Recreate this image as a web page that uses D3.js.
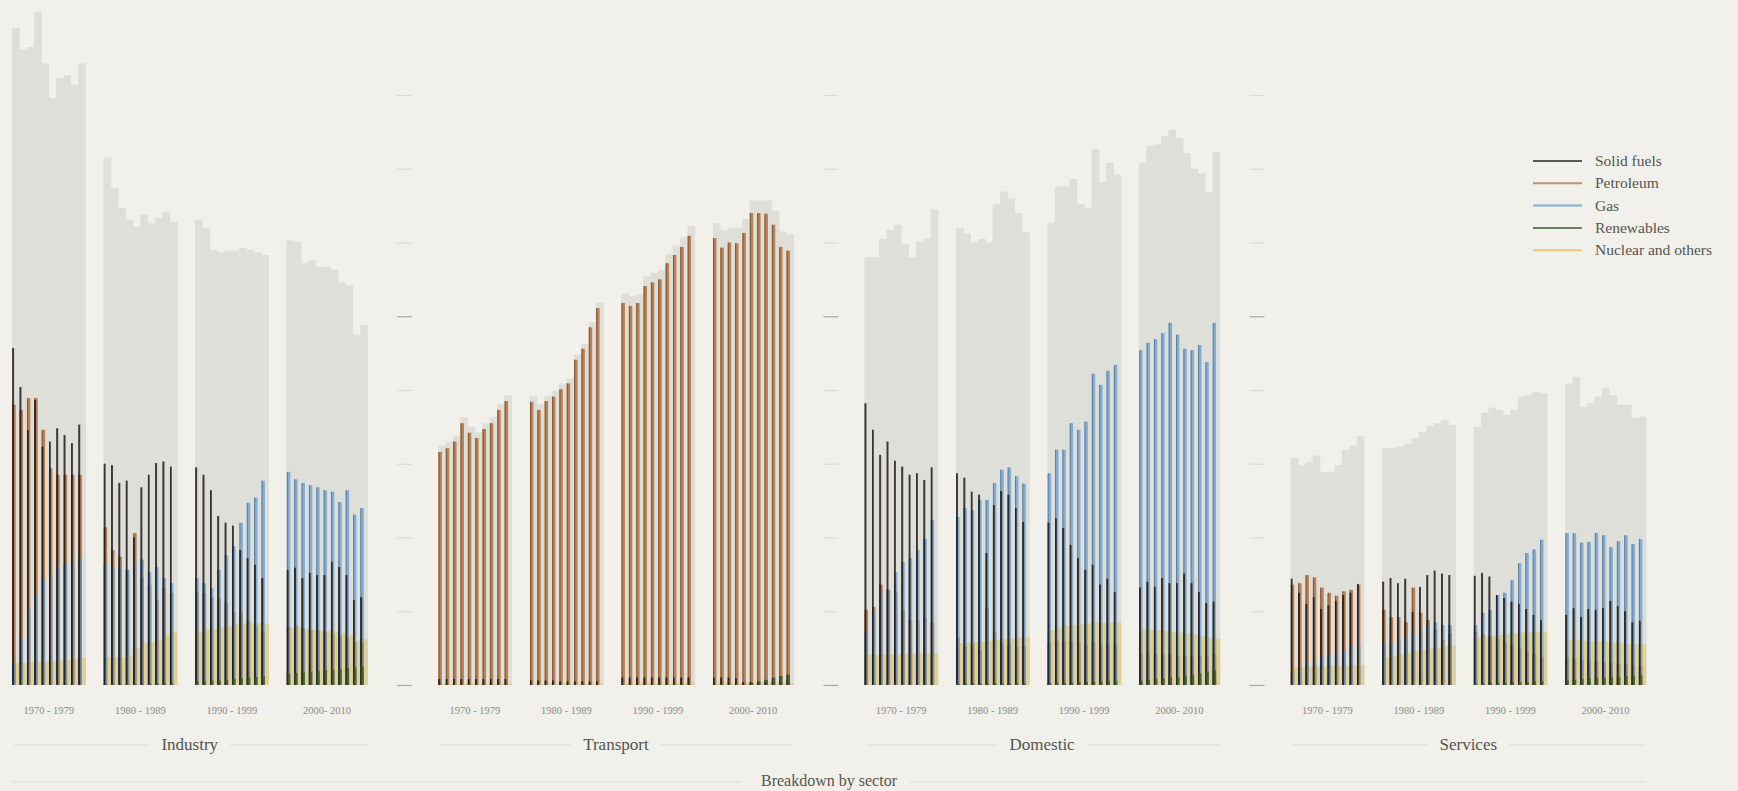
<!DOCTYPE html>
<html>
<head>
<meta charset="utf-8">
<script src="https://cdn.jsdelivr.net/npm/d3@7"></script>
<style>
  html, body { margin: 0; padding: 0; background: #f1f0ea; }
  #chart { width: 1738px; height: 791px; }
  text { font-family: "Liberation Serif", "DejaVu Serif", serif; }
</style>
</head>
<body>
<div id="chart"></div>
<script>
// categories
const sectors = ["Industry", "Transport", "Domestic", "Services"];
const decadeLabels = ["1970 - 1979", "1980 - 1989", "1990 - 1999", "2000- 2010"];
const decadeLengths = [10, 10, 10, 11];
const fuels = ["Solid fuels", "Petroleum", "Gas", "Renewables", "Nuclear and others"];
const fuelColors = ["#2e2623", "#b8703a", "#5e9bd6", "#3c5a33", "#e0c150"];
const drawOrder = [1, 2, 0, 3]; // petroleum behind, then gas, solid fuels, renewables in front
const yTicks = [0, 10, 20, 30, 40, 50, 60, 70, 80];

// Industry, 1970-2010
const industryTotal = [89.1,86.2,86.5,91.3,84.3,79.6,82.3,82.7,81.4,84.3, 71.5,67.4,64.7,63.1,62.1,63.7,62.6,63.3,64.1,62.8, 63.1,62.0,59.0,58.7,58.9,58.9,59.3,59.0,58.7,58.3, 60.3,60.1,57.2,57.6,56.7,56.7,56.3,54.6,54.2,47.5,48.8];
const industrySolid = [45.7,40.4,34.6,38.6,32.3,33.0,34.8,33.9,32.8,35.3, 30.0,29.8,27.4,27.7,20.0,26.8,28.5,30.1,30.3,29.6, 29.5,28.5,26.4,22.9,22.0,21.6,18.3,17.2,16.3,14.5, 15.6,15.9,14.5,15.2,14.9,14.9,16.7,16.0,14.9,11.5,11.9];
const industryPetroleum = [38.0,37.3,38.9,38.9,34.6,29.4,28.5,28.5,28.5,28.5, 21.4,18.3,17.4,15.6,20.6,14.5,13.6,11.5,13.2,12.5, 12.6,12.5,11.9,11.8,11.1,9.9,9.8,8.8,8.1,7.2, 7.9,8.1,7.7,7.5,7.4,7.2,6.9,6.6,6.4,5.8,5.7];
const industryGas = [3.0,6.4,10.4,12.2,14.5,14.6,15.9,16.5,16.5,17.2, 16.3,15.9,16.0,15.6,16.5,17.0,15.3,16.0,14.5,13.8, 14.5,13.8,13.2,15.6,17.6,18.8,22.0,24.7,25.4,27.7, 28.9,27.9,27.4,27.1,26.8,26.4,26.2,24.8,26.4,23.1,24.0];
const industryRenewables = [0,0,0,0,0,0,0,0,0,0, 0.1,0.1,0.1,0.1,0.1,0.1,0.2,0.2,0.2,0.2, 0.5,0.5,0.6,0.6,0.7,0.8,0.9,1.0,1.1,1.2, 1.5,1.6,1.7,1.8,1.9,2.0,2.1,2.2,2.3,2.4,2.5];
const industryNuclear = [3.0,3.0,3.1,3.2,3.2,3.2,3.3,3.4,3.5,3.7, 3.8,3.8,3.8,4.0,5.0,5.7,5.7,6.1,6.8,7.2, 7.2,7.4,7.6,7.8,8.0,8.2,8.3,8.4,8.4,8.3, 7.7,7.8,7.6,7.5,7.4,7.3,7.2,7.0,6.8,6.0,6.2];

// Transport
const transportTotal = [32.5,33.0,33.8,36.3,35.0,34.3,35.5,36.3,38.1,39.3, 39.2,38.1,39.2,39.9,40.9,41.6,44.8,46.3,49.2,51.8, 53.1,52.7,53.0,55.4,55.9,56.3,58.4,59.6,60.7,62.2, 62.6,61.7,62.0,62.0,63.2,65.7,65.7,65.7,64.3,61.5,61.1];
const transportSolid = [0.8,0.8,0.8,0.8,0.8,0.8,0.8,0.8,0.8,0.8, 0.6,0.6,0.6,0.6,0.5,0.5,0.5,0.5,0.5,0.5, 1.0,1.0,1.0,1.0,1.0,1.0,1.0,1.0,1.0,1.0, 1.0,1.0,1.0,0.9,0.4,0.4,0.4,0.4,0.5,0.5,0.6];
const transportPetroleum = [31.6,32.1,33.0,35.5,34.2,33.5,34.7,35.5,37.3,38.5, 38.4,37.3,38.5,39.1,40.1,40.9,44.1,45.6,48.5,51.1, 51.8,51.4,51.8,54.1,54.6,55.0,57.2,58.3,59.4,60.9, 60.6,59.3,60.0,59.9,61.3,64.0,64.0,63.9,62.4,59.4,58.9];
const transportGas = [0,0,0,0,0,0,0,0,0,0, 0,0,0,0,0,0,0,0,0,0, 0,0,0,0,0,0,0,0,0,0, 0,0,0,0,0,0,0,0,0,0,0];
const transportRenewables = [0,0,0,0,0,0,0,0,0,0, 0,0,0,0,0,0,0,0,0,0, 0,0,0,0,0,0,0,0,0,0, 0,0,0,0,0,0.3,0.5,0.7,1.0,1.2,1.4];
const transportNuclear = [0.2,0.2,0.2,0.2,0.2,0.2,0.2,0.2,0.2,0.2, 0.2,0.2,0.2,0.2,0.2,0.2,0.2,0.2,0.2,0.2, 0.3,0.3,0.3,0.3,0.3,0.3,0.3,0.3,0.3,0.3, 0.3,0.3,0.3,0.3,0.3,0.3,0.3,0.3,0.3,0.3,0.3];

// Domestic
const domesticTotal = [58.0,58.0,60.5,61.7,62.4,59.8,58.0,60.1,60.5,64.5, 62.0,61.2,60.0,60.5,60.0,65.2,66.9,66.0,64.0,61.4, 62.7,67.6,67.6,68.6,65.2,64.7,72.7,68.2,70.8,69.2, 70.8,73.1,73.3,74.4,75.3,74.2,72.1,70.0,69.4,66.8,72.3];
const domesticSolid = [38.2,34.6,31.2,33.0,30.4,29.6,28.5,28.7,27.8,29.5, 28.7,28.1,26.2,25.8,17.9,24.4,26.3,25.8,24.0,22.1, 22.0,22.6,21.3,19.0,17.2,15.6,16.3,13.6,14.4,12.6, 13.2,14.0,13.3,14.5,13.8,13.8,15.1,13.8,12.6,11.1,11.3];
const domesticPetroleum = [10.2,10.6,13.6,12.9,12.7,10.2,8.8,8.8,9.1,8.5, 6.4,5.2,5.4,4.7,10.5,7.2,5.7,5.4,5.2,5.2, 5.8,6.0,5.9,5.8,5.6,5.4,5.8,5.5,5.6,5.5, 4.3,4.4,4.2,4.1,4.2,4.0,3.9,3.8,4.0,3.8,4.2];
const domesticGas = [7.1,9.8,12.5,12.9,15.3,16.7,17.2,18.3,19.8,22.4, 22.8,24.0,23.7,25.1,25.1,27.4,29.2,29.5,28.3,27.3, 28.7,31.9,31.9,35.5,34.6,35.7,42.2,40.7,42.6,43.4, 45.4,46.4,46.9,47.7,49.1,47.5,45.6,45.4,46.1,43.8,49.1];
const domesticRenewables = [0,0,0,0,0,0,0,0,0,0, 0.2,0.2,0.2,0.2,0.2,0.2,0.2,0.2,0.2,0.2, 0.3,0.3,0.3,0.3,0.4,0.4,0.4,0.5,0.5,0.5, 0.6,0.7,0.8,0.9,1.0,1.1,1.2,1.4,1.6,1.8,2.0];
const domesticNuclear = [4.1,4.1,4.1,4.2,4.2,4.2,4.2,4.3,4.3,4.3, 5.7,5.8,5.8,5.9,6.0,6.1,6.2,6.3,6.4,6.5, 7.4,7.8,8.0,8.1,8.2,8.3,8.5,8.4,8.5,8.5, 7.6,7.5,7.4,7.3,7.2,7.1,7.0,6.8,6.6,6.4,6.2];

// Services
const servicesTotal = [30.8,29.8,30.2,31.1,28.9,28.9,29.8,31.9,32.5,33.8, 32.1,32.1,32.3,32.7,33.5,34.3,35.1,35.5,35.9,35.3, 35.0,36.9,37.6,37.3,36.6,37.3,39.1,39.3,39.7,39.6, 40.9,41.8,37.7,38.2,39.1,40.3,39.3,38.0,38.0,36.2,36.4];
const servicesSolid = [14.4,12.5,11.0,11.9,10.3,10.8,11.4,12.2,12.5,13.7, 14.0,14.5,13.8,14.4,9.9,13.3,14.9,15.5,15.1,14.9, 14.8,15.2,14.7,12.2,11.8,11.3,11.0,10.3,9.5,8.8, 9.5,10.4,9.2,10.3,10.2,10.4,11.4,10.7,10.0,8.5,8.7];
const servicesPetroleum = [13.6,13.8,14.9,14.6,13.2,12.5,12.1,12.7,12.9,13.6, 10.2,9.2,9.2,8.5,13.2,9.8,8.8,7.5,6.1,7.0, 7.2,6.9,6.6,6.2,5.8,5.4,5.0,4.6,4.2,3.8, 3.7,3.6,3.4,3.3,3.2,3.1,3.0,2.9,2.8,2.6,2.5];
const servicesGas = [1.6,2.3,3.0,3.0,3.8,4.1,4.3,4.7,5.2,5.4, 5.7,5.8,6.1,6.5,7.0,7.6,8.1,8.5,8.1,8.1, 8.1,9.8,10.2,12.2,12.5,14.2,16.5,17.9,18.4,19.7, 20.6,20.6,19.3,19.4,20.6,20.3,18.7,19.5,20.3,19.1,19.8];
const servicesRenewables = [0,0,0,0,0,0,0,0,0,0, 0,0,0,0,0,0,0,0,0,0, 0.2,0.2,0.3,0.3,0.3,0.4,0.4,0.4,0.5,0.5, 0.6,0.7,0.8,0.9,1.0,1.0,1.1,1.1,1.2,1.2,1.3];
const servicesNuclear = [2.4,2.4,2.5,2.5,2.5,2.6,2.6,2.6,2.7,2.7, 3.8,4.0,4.2,4.4,4.6,4.8,5.0,5.1,5.3,5.4, 6.5,6.6,6.7,6.8,6.9,7.0,7.1,7.1,7.2,7.2, 6.1,6.1,6.0,6.0,5.9,5.9,5.8,5.7,5.6,5.5,5.5];

const sectorData = [
  { name: "Industry", total: industryTotal, fuels: [industrySolid, industryPetroleum, industryGas, industryRenewables, industryNuclear] },
  { name: "Transport", total: transportTotal, fuels: [transportSolid, transportPetroleum, transportGas, transportRenewables, transportNuclear] },
  { name: "Domestic", total: domesticTotal, fuels: [domesticSolid, domesticPetroleum, domesticGas, domesticRenewables, domesticNuclear] },
  { name: "Services", total: servicesTotal, fuels: [servicesSolid, servicesPetroleum, servicesGas, servicesRenewables, servicesNuclear] },
];

////////////////////////////////////////////////////////////////////
// svg
const width = 1738;
const height = 791;
const svg = d3.select("#chart").append("svg").attr("width", width).attr("height", height);

// scales
const gap = 2.45; // empty slots between decades
const nYears = d3.sum(decadeLengths);
const decadeStart = d3.cumsum([0].concat(decadeLengths)); // first year index of each decade

const xSector = d3.scaleBand().domain(sectors).range([12, 1646]).paddingInner(0.166);
const xSlot = d3.scaleLinear().domain([0, nYears + 3 * gap]).range([0, xSector.bandwidth()]);
const y = d3.scaleLinear().domain([0, 80]).range([685, 95]);

const decadeOf = (i) => d3.bisectRight(decadeStart.slice(1), i);
const slotPos = (i) => i + decadeOf(i) * gap;
const slotW = xSlot(1) - xSlot(0);
const NUC = 4; // index of "Nuclear and others", drawn as a wide pale band

// per fuel: bar width and opacity
const barWidth = [1.8, 3.4, 3.4, 3.4];
const barOpacity = [0.85, 0.85, 0.72, 0.85];

// axis ticks (no labels)
sectorData.forEach((s) => {
  const g = svg.append("g")
    .attr("transform", `translate(${xSector(s.name) - 26},0)`)
    .call(d3.axisLeft(y).tickValues(yTicks).tickSize(15).tickFormat(""));
  g.select(".domain").remove();
  g.selectAll(".tick line")
    .attr("stroke", (d) => (d === 0 || d === 50 ? "#a9a8a2" : "#dcdbd4"))
    .attr("stroke-width", 1.2);
});

// bars
sectorData.forEach((s) => {
  const g = svg.append("g").attr("transform", `translate(${xSector(s.name)},0)`);

  // totals in grey
  g.selectAll(".total")
    .data(s.total)
    .join("rect")
    .attr("class", "total")
    .attr("x", (d, i) => xSlot(slotPos(i)))
    .attr("width", slotW + 0.4)
    .attr("y", (d) => y(d))
    .attr("height", (d) => y(0) - y(d))
    .attr("fill", "#dfdfda");

  // nuclear & others: wide pale band
  g.selectAll(".nuc")
    .data(s.fuels[NUC])
    .join("rect")
    .attr("class", "nuc")
    .attr("x", (d, i) => xSlot(slotPos(i)))
    .attr("width", slotW + 0.4)
    .attr("y", (d) => y(d))
    .attr("height", (d) => y(0) - y(d))
    .attr("fill", fuelColors[NUC])
    .attr("opacity", 0.5);

  // other fuels: thin translucent bars in a fixed order, with a darker left edge
  drawOrder.forEach((k) => {
    const bar = g.selectAll(null)
      .data(s.fuels[k].map((v, i) => ({ i, v })).filter((d) => d.v > 0))
      .join("g")
      .attr("opacity", barOpacity[k]);
    bar.append("rect")
      .attr("x", (d) => xSlot(slotPos(d.i)) + 0.3)
      .attr("width", barWidth[k])
      .attr("y", (d) => y(d.v))
      .attr("height", (d) => y(0) - y(d.v))
      .attr("fill", fuelColors[k]);
    bar.append("rect")
      .attr("x", (d) => xSlot(slotPos(d.i)) + 0.3)
      .attr("width", 1)
      .attr("y", (d) => y(d.v))
      .attr("height", (d) => y(0) - y(d.v))
      .attr("fill", d3.color(fuelColors[k]).darker(1.6));
  });

  // decade labels
  g.selectAll(".decade")
    .data(decadeLabels)
    .join("text")
    .attr("class", "decade")
    .attr("x", (d, j) => xSlot(slotPos(decadeStart[j]) + decadeLengths[j] / 2))
    .attr("y", 714)
    .attr("text-anchor", "middle")
    .attr("font-size", 10.5)
    .attr("fill", "#8c8b86")
    .text((d) => d);

  // sector label with rules
  const cx = xSector.bandwidth() / 2;
  const label = g.append("text")
    .attr("x", cx)
    .attr("y", 750)
    .attr("text-anchor", "middle")
    .attr("font-size", 17)
    .attr("fill", "#555550")
    .text(s.name);
  const tw = label.node().getComputedTextLength();
  g.append("line").attr("x1", 2).attr("x2", cx - tw / 2 - 12)
    .attr("y1", 745).attr("y2", 745).attr("stroke", "#dddcd5");
  g.append("line").attr("x1", cx + tw / 2 + 12).attr("x2", xSector.bandwidth())
    .attr("y1", 745).attr("y2", 745).attr("stroke", "#dddcd5");
});

// overall title
const midX = (xSector.range()[0] + xSector.range()[1]) / 2;
const title = svg.append("text")
  .attr("x", midX)
  .attr("y", 786)
  .attr("text-anchor", "middle")
  .attr("font-size", 16)
  .attr("fill", "#555550")
  .text("Breakdown by sector");
const ttw = title.node().getComputedTextLength();
svg.append("line").attr("x1", 12).attr("x2", midX - ttw / 2 - 20)
  .attr("y1", 782).attr("y2", 782).attr("stroke", "#dddcd5");
svg.append("line").attr("x1", midX + ttw / 2 + 12).attr("x2", 1646)
  .attr("y1", 782).attr("y2", 782).attr("stroke", "#dddcd5");

// legend
const legend = svg.append("g").attr("transform", "translate(1533,161)");
const row = legend.selectAll("g")
  .data(fuels)
  .join("g")
  .attr("transform", (d, i) => `translate(0,${i * 22.3})`);
row.append("line")
  .attr("x1", 0).attr("x2", 49)
  .attr("stroke", (d, i) => fuelColors[i])
  .attr("stroke-width", 2)
  .attr("opacity", 0.75);
row.append("text")
  .attr("x", 62)
  .attr("y", 5)
  .attr("font-size", 15.5)
  .attr("fill", "#555550")
  .text((d) => d);
</script>
</body>
</html>
